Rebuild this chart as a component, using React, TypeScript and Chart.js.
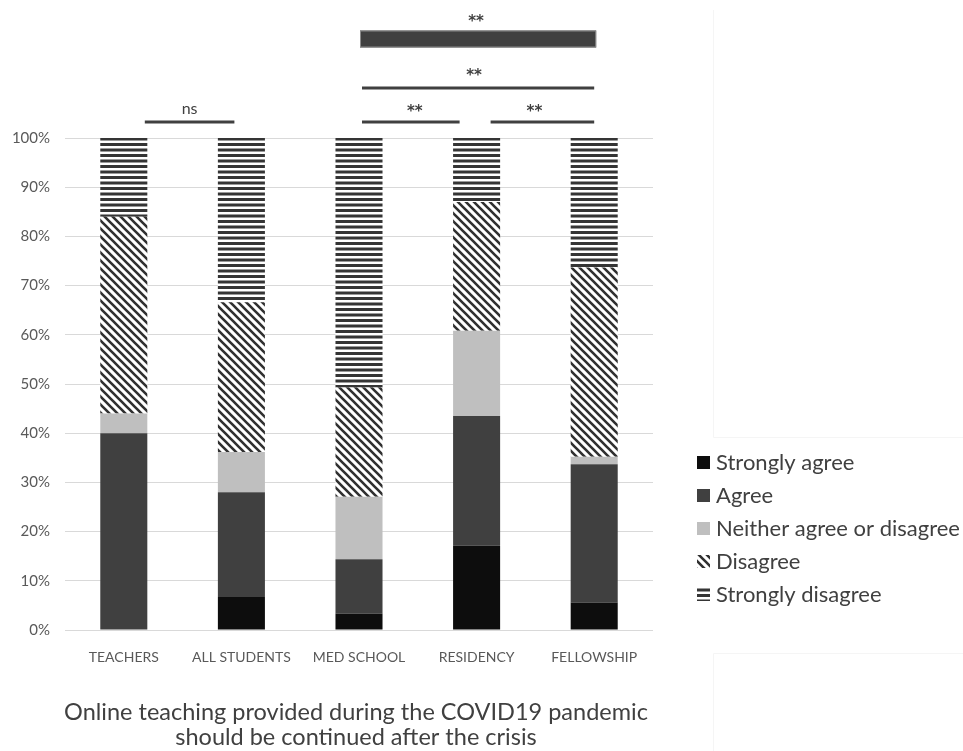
import React, { useEffect, useRef } from "react";
import { Chart, registerables } from "chart.js";

Chart.register(...registerables);

const categories = ["TEACHERS", "ALL STUDENTS", "MED SCHOOL", "RESIDENCY", "FELLOWSHIP"];
const seriesNames = ["Strongly agree", "Agree", "Neither agree or disagree", "Disagree", "Strongly disagree"];
const stronglyAgree = [0, 6.7, 3.3, 17.1, 5.6];
const agree = [40, 21.3, 11.1, 26.4, 28.1];
const neither = [4, 8.2, 12.7, 17.3, 1.5];
const disagree = [40, 30.4, 22.2, 26.2, 38.5];
const stronglyDisagree = [16, 33.4, 50.7, 13, 26.3];
const yTicks = [0, 10, 20, 30, 40, 50, 60, 70, 80, 90, 100];
// comparisons: [from category, to category, label]
const comparisons: [number, number, string][] = [
  [0, 1, "ns"],
  [2, 3, "**"],
  [3, 4, "**"],
  [2, 4, "**"],
  [2, 4, "**"],
];
const titleLines = ["Online teaching provided during the COVID19 pandemic", "should be continued after the crisis"];

const FONT = "Lato, 'Open Sans', sans-serif";

function makeHorizontal(): CanvasPattern | string {
  const c = document.createElement("canvas");
  c.width = 8;
  c.height = 11;
  const g = c.getContext("2d");
  if (!g) return "#333";
  g.fillStyle = "#ffffff";
  g.fillRect(0, 0, 8, 11);
  g.fillStyle = "#353535";
  g.fillRect(0, 0, 8, 3);
  g.fillRect(0, 5.5, 8, 3);
  return g.createPattern(c, "repeat") || "#333";
}

function makeDiagonal(): CanvasPattern | string {
  const c = document.createElement("canvas");
  c.width = 8;
  c.height = 8;
  const g = c.getContext("2d");
  if (!g) return "#333";
  g.fillStyle = "#ffffff";
  g.fillRect(0, 0, 8, 8);
  g.strokeStyle = "#303030";
  g.lineWidth = 2.6;
  g.beginPath();
  g.moveTo(-2, -2);
  g.lineTo(10, 10);
  g.moveTo(-2, 6);
  g.lineTo(2, 10);
  g.moveTo(6, -2);
  g.lineTo(10, 2);
  g.stroke();
  return g.createPattern(c, "repeat") || "#333";
}

export default function App() {
  const ref = useRef<HTMLCanvasElement | null>(null);

  useEffect(() => {
    const canvas = ref.current;
    if (!canvas) return;
    const hPat = makeHorizontal();
    const dPat = makeDiagonal();
    const fills: (string | CanvasPattern)[] = ["#0d0d0d", "#404040", "#bfbfbf", dPat, hPat];
    const values = [stronglyAgree, agree, neither, disagree, stronglyDisagree];

    const annot = {
      id: "annot",
      afterDraw(chart: any) {
        const ctx = chart.ctx as CanvasRenderingContext2D;
        const xs = chart.scales.x;
        const top = chart.chartArea.top;
        const c = (i: number) => xs.getPixelForValue(i);
        const geo = [
          { a: 21, b: -7, y: top - 16, h: 3, ty: top - 29, dx: 0 },
          { a: 3, b: -17, y: top - 16, h: 3, ty: top - 30, dx: 4 },
          { a: 14, b: 0, y: top - 16, h: 3, ty: top - 30, dx: -8 },
          { a: 3, b: 0, y: top - 50, h: 3, ty: top - 66, dx: -4 },
          { a: 1, b: 2, y: top - 99, h: 17, ty: top - 120, dx: -2 },
        ];
        ctx.save();
        comparisons.forEach(([f, t, lab], k) => {
          const gm = geo[k];
          const x1 = c(f) + gm.a;
          const x2 = c(t) + gm.b;
          ctx.fillStyle = "#404040";
          ctx.fillRect(x1, gm.y - gm.h / 2, x2 - x1, gm.h);
          if (gm.h > 5) {
            ctx.strokeStyle = "#8a8a8a";
            ctx.lineWidth = 1;
            ctx.strokeRect(x1 + 0.5, gm.y - gm.h / 2 + 0.5, x2 - x1 - 1, gm.h - 1);
          }
          ctx.fillStyle = "#404040";
          ctx.textAlign = "center";
          ctx.textBaseline = "middle";
          if (lab === "ns") {
            ctx.font = `16px ${FONT}`;
            ctx.fillText(lab, (x1 + x2) / 2 + gm.dx, gm.ty);
          } else {
            ctx.font = `bold 15px 'DejaVu Sans', sans-serif`;
            ctx.fillText(lab, (x1 + x2) / 2 + gm.dx, gm.ty + 4);
          }
        });

        // legend
        const lx = 697;
        const ly0 = 463;
        const step = 33;
        seriesNames.forEach((name, i) => {
          const y = ly0 + i * step;
          ctx.fillStyle = fills[i] as any;
          ctx.fillRect(lx, y - 7, 13, 13);
          ctx.fillStyle = "#404040";
          ctx.textAlign = "left";
          ctx.textBaseline = "middle";
          ctx.font = `22px ${FONT}`;
          ctx.fillText(name, lx + 19, y);
        });

        // title
        ctx.fillStyle = "#404040";
        ctx.textAlign = "center";
        ctx.textBaseline = "middle";
        ctx.font = `23.5px ${FONT}`;
        const cx = (chart.chartArea.left + chart.chartArea.right) / 2 - 3;
        titleLines.forEach((l, i) => ctx.fillText(l, cx, 712 + i * 25));

        // faint frame artifacts
        ctx.strokeStyle = "#f5f5f5";
        ctx.lineWidth = 1;
        ctx.beginPath();
        ctx.moveTo(713.5, 10);
        ctx.lineTo(713.5, 437.5);
        ctx.lineTo(963, 437.5);
        ctx.moveTo(713.5, 751);
        ctx.lineTo(713.5, 653.5);
        ctx.lineTo(963, 653.5);
        ctx.stroke();
        ctx.restore();
      },
    };

    const chart = new Chart(canvas, {
      type: "bar",
      data: {
        labels: categories,
        datasets: seriesNames.map((n, i) => ({
          label: n,
          data: values[i],
          backgroundColor: fills[i] as any,
          borderWidth: 0,
          categoryPercentage: 1,
          barPercentage: 0.4,
        })),
      },
      options: {
        responsive: false,
        animation: false,
        layout: { padding: { top: 138, right: 310, left: 0, bottom: 0 } },
        plugins: { legend: { display: false }, tooltip: { enabled: false } },
        scales: {
          x: {
            stacked: true,
            grid: { display: false },
            border: { display: false },
            ticks: { color: "#595959", font: { family: FONT, size: 14 }, padding: 11, maxRotation: 0, autoSkip: false },
            afterFit: (s: any) => {
              s.height = 121;
            },
          },
          y: {
            stacked: true,
            min: 0,
            max: 100,
            afterBuildTicks: (s: any) => {
              s.ticks = yTicks.map((v) => ({ value: v }));
            },
            ticks: { color: "#595959", font: { family: FONT, size: 15 }, padding: 15, callback: (v: any) => v + "%" },
            grid: { color: "#d9d9d9", drawTicks: false },
            border: { display: false },
            afterFit: (s: any) => {
              s.width = 65;
            },
          },
        },
      },
      plugins: [annot],
    });
    return () => chart.destroy();
  }, []);

  return (
    <div style={{ position: "absolute", left: 0, top: 0, width: 963, height: 751, background: "#fff" }}>
      <canvas ref={ref} width={963} height={751} style={{ display: "block", width: 963, height: 751 }} />
    </div>
  );
}
